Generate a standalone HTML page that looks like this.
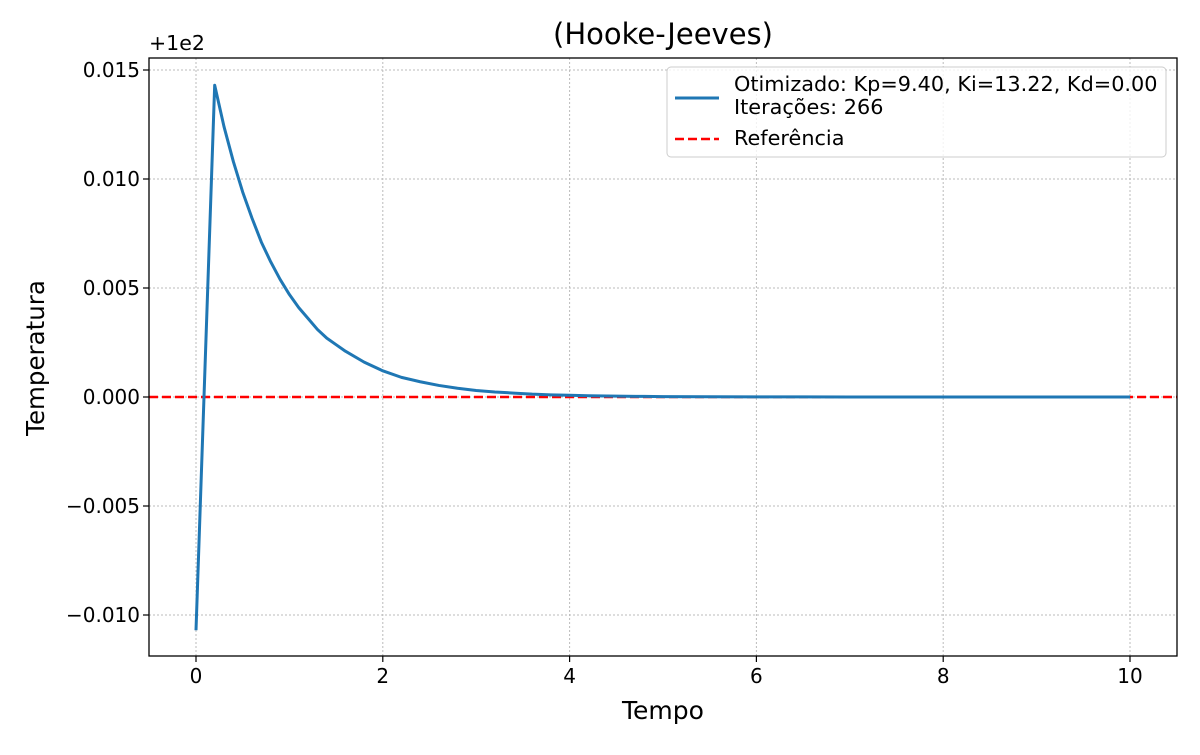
<!DOCTYPE html>
<html><head><meta charset="utf-8"><style>
body{margin:0;background:#fff;}
svg text{font-family:"DejaVu Sans","Liberation Sans",sans-serif;fill:#000;}
</style></head><body>
<svg width="1200" height="750" id="c">
<rect x="0" y="0" width="1200" height="750" fill="#fff"/>
<text x="663" y="44" font-size="29" text-anchor="middle">(Hooke-Jeeves)</text>
<text x="663" y="719" font-size="25" text-anchor="middle">Tempo</text>
<text x="44" y="358" font-size="24.5" text-anchor="middle" transform="rotate(-90 44 358)">Temperatura</text>
<text x="149" y="50" font-size="20.5">+1e2</text>
<g id="grid"></g><g id="ticks"></g>
<clipPath id="clip"><rect x="149" y="58" width="1028" height="598"/></clipPath>
<g id="series" clip-path="url(#clip)"></g>
<rect x="149" y="58" width="1028" height="598" fill="none" stroke="#000" stroke-width="1.3"/>
<g>
<rect x="667" y="67" width="499" height="90" rx="4" fill="#fff" fill-opacity="0.8" stroke="#ccc"/>
<line x1="675" y1="98" x2="719" y2="98" stroke="#1f77b4" stroke-width="3"/>
<text x="734" y="91" font-size="20.8">Otimizado: Kp=9.40, Ki=13.22, Kd=0.00</text>
<text x="734" y="114" font-size="20.8">Iterações: 266</text>
<line x1="675" y1="139" x2="719" y2="139" stroke="#ff0000" stroke-width="2.5" stroke-dasharray="9,4"/>
<text x="734" y="145" font-size="20.8">Referência</text>
</g>
</svg>
<script>
const xTicks=[0,2,4,6,8,10];
const yTicks=[-0.010,-0.005,0.000,0.005,0.010,0.015];
const yTickLabels=["\u22120.010","\u22120.005","0.000","0.005","0.010","0.015"];
const times=[0,0.2,0.3,0.4,0.5,0.6,0.7,0.8,0.9,1.0,1.1,1.2,1.3,1.4,1.5,1.6,1.8,2.0,2.2,2.4,2.6,2.8,3.0,3.2,3.4,3.6,3.8,4.0,4.2,4.4,4.6,4.8,5.0,5.5,6,6.5,7,8,9,10];
const temps=[-0.0107,0.0143,0.0124,0.0108,0.0094,0.0082,0.0071,0.0062,0.0054,0.0047,0.0041,0.0036,0.0031,0.0027,0.0024,0.0021,0.0016,0.0012,0.0009,0.0007,0.00053,0.0004,0.0003,0.00023,0.00018,0.00013,0.0001,0.00008,0.00006,0.000045,0.000035,0.000026,0.00002,0.00001,0.000006,0.000003,0.000002,0.000001,0,0];
const reference=[0.0];
const X=v=>196+(v-0)*93.4;
const Y=v=>397-v*21800;
const ns="http://www.w3.org/2000/svg";
const grid=document.getElementById('grid'),ticks=document.getElementById('ticks'),series=document.getElementById('series');
function mk(tag,attrs,parent){const e=document.createElementNS(ns,tag);for(const k in attrs)e.setAttribute(k,attrs[k]);parent.appendChild(e);return e;}
xTicks.forEach(t=>{
 const g=mk('line',{x1:X(t),x2:X(t),y1:58,y2:656,stroke:'#bbb','stroke-width':1,'stroke-dasharray':'2,2'},grid);
 
 
 const tk=mk('line',{x1:X(t),x2:X(t),y1:656,y2:662,stroke:'#000','stroke-width':1.2},ticks);
 
 
 const tx=mk('text',{x:X(t),y:683,'font-size':20,'text-anchor':'middle'},ticks);tx.textContent=t;
 
 
});
yTicks.forEach((t,i)=>{
 const g=mk('line',{x1:149,x2:1177,y1:Y(t),y2:Y(t),stroke:'#bbb','stroke-width':1,'stroke-dasharray':'2,2'},grid);
 
 
 const tk=mk('line',{x1:143,x2:149,y1:Y(t),y2:Y(t),stroke:'#000','stroke-width':1.2},ticks);
 
 
 const tx=mk('text',{x:140,y:Y(t)+7,'font-size':20,'text-anchor':'end'},ticks);tx.textContent=yTickLabels[i];
 
 
});
const ref=mk('line',{x1:149,x2:1177,y1:Y(reference[0]),y2:Y(reference[0]),stroke:'#ff0000','stroke-width':2.5,'stroke-dasharray':'9,4'},series);


const p=mk('polyline',{points:times.map((t,i)=>X(t)+','+Y(temps[i])).join(' '),fill:'none',stroke:'#1f77b4','stroke-width':3,'stroke-linejoin':'round'},series);


</script>
</body></html>
